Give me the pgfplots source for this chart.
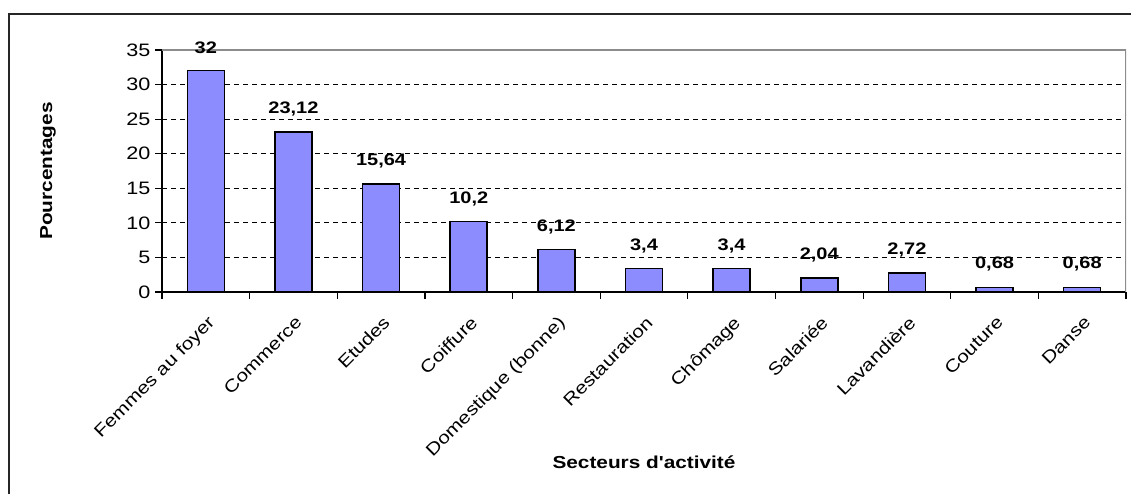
\documentclass[border=0pt]{standalone}
\usepackage{pgfplots}
\pgfplotsset{compat=1.18}
\usepackage{fontspec}
\setmainfont{Liberation Sans}[FakeStretch=1.2, Ligatures=TeXOff]

\definecolor{barblue}{RGB}{140,140,255}

\begin{document}
\begin{tikzpicture}[x=0.75pt,y=0.75pt]
\useasboundingbox (0,0) rectangle (1131,493);
\clip (0,0) rectangle (1131,493);
% outer chart frame
\draw[black!85, line width=1.2pt] (9,-20) -- (9,479) -- (1160,479);

\begin{axis}[
    at={(121.5pt,150.75pt)}, anchor=south west,
    scale only axis,
    width=723pt, height=181.5pt,
    axis lines=left,
    axis line style={-, black, line width=0.9pt},
    xmin=-0.5, xmax=10.5,
    ymin=0, ymax=35,
    ytick={0,5,...,35},
    xtick={-0.5,0.5,...,10.5},
    xticklabels={Femmes au foyer,Commerce,Etudes,Coiffure,Domestique (bonne),Restauration,Chômage,Salariée,Lavandière,Couture,Danse,{}},
    tick align=outside,
    major tick length=5.25pt,
    tick style={black, line width=0.9pt},
    ymajorgrids,
    grid style={black, line width=0.75pt, dash pattern=on 3.75pt off 3pt},
    /pgf/number format/assume math mode=true,
    yticklabel style={font=\fontsize{13.5}{16}\selectfont, anchor=east},
    xticklabel style={font=\fontsize{13}{15}\selectfont, xshift=33.5pt, yshift=-7pt, rotate=45, anchor=north east},
    xlabel={Secteurs d'activité},
    ylabel={Pourcentages},
    xlabel style={font=\bfseries\fontsize{13}{15}\selectfont, at={(axis description cs:0.5,-0.7025)}, anchor=center},
    ylabel style={font=\bfseries\fontsize{13}{15}\selectfont, at={(axis description cs:-0.1183,0.5)}, anchor=center},
    ybar, bar width=27.75pt,
    nodes near coords={\pgfmathprintnumber[fixed, precision=2, use comma, 1000 sep={}]{\pgfplotspointmeta}},
    every node near coord/.append style={font=\bfseries\fontsize{12.5}{15}\selectfont, black, anchor=center, yshift=17.25pt},
]
\addplot[draw=black, line width=1.1pt, fill=barblue] coordinates {
    (0,32)
    (1,23.12)
    (2,15.64)
    (3,10.2)
    (4,6.12)
    (5,3.4)
    (6,3.4)
    (7,2.04)
    (8,2.72)
    (9,0.68)
    (10,0.68)
};
\draw[black!45, line width=1.1pt] (rel axis cs:0,1) -- (rel axis cs:1,1) -- (rel axis cs:1,0);
\end{axis}
\end{tikzpicture}
\end{document}
